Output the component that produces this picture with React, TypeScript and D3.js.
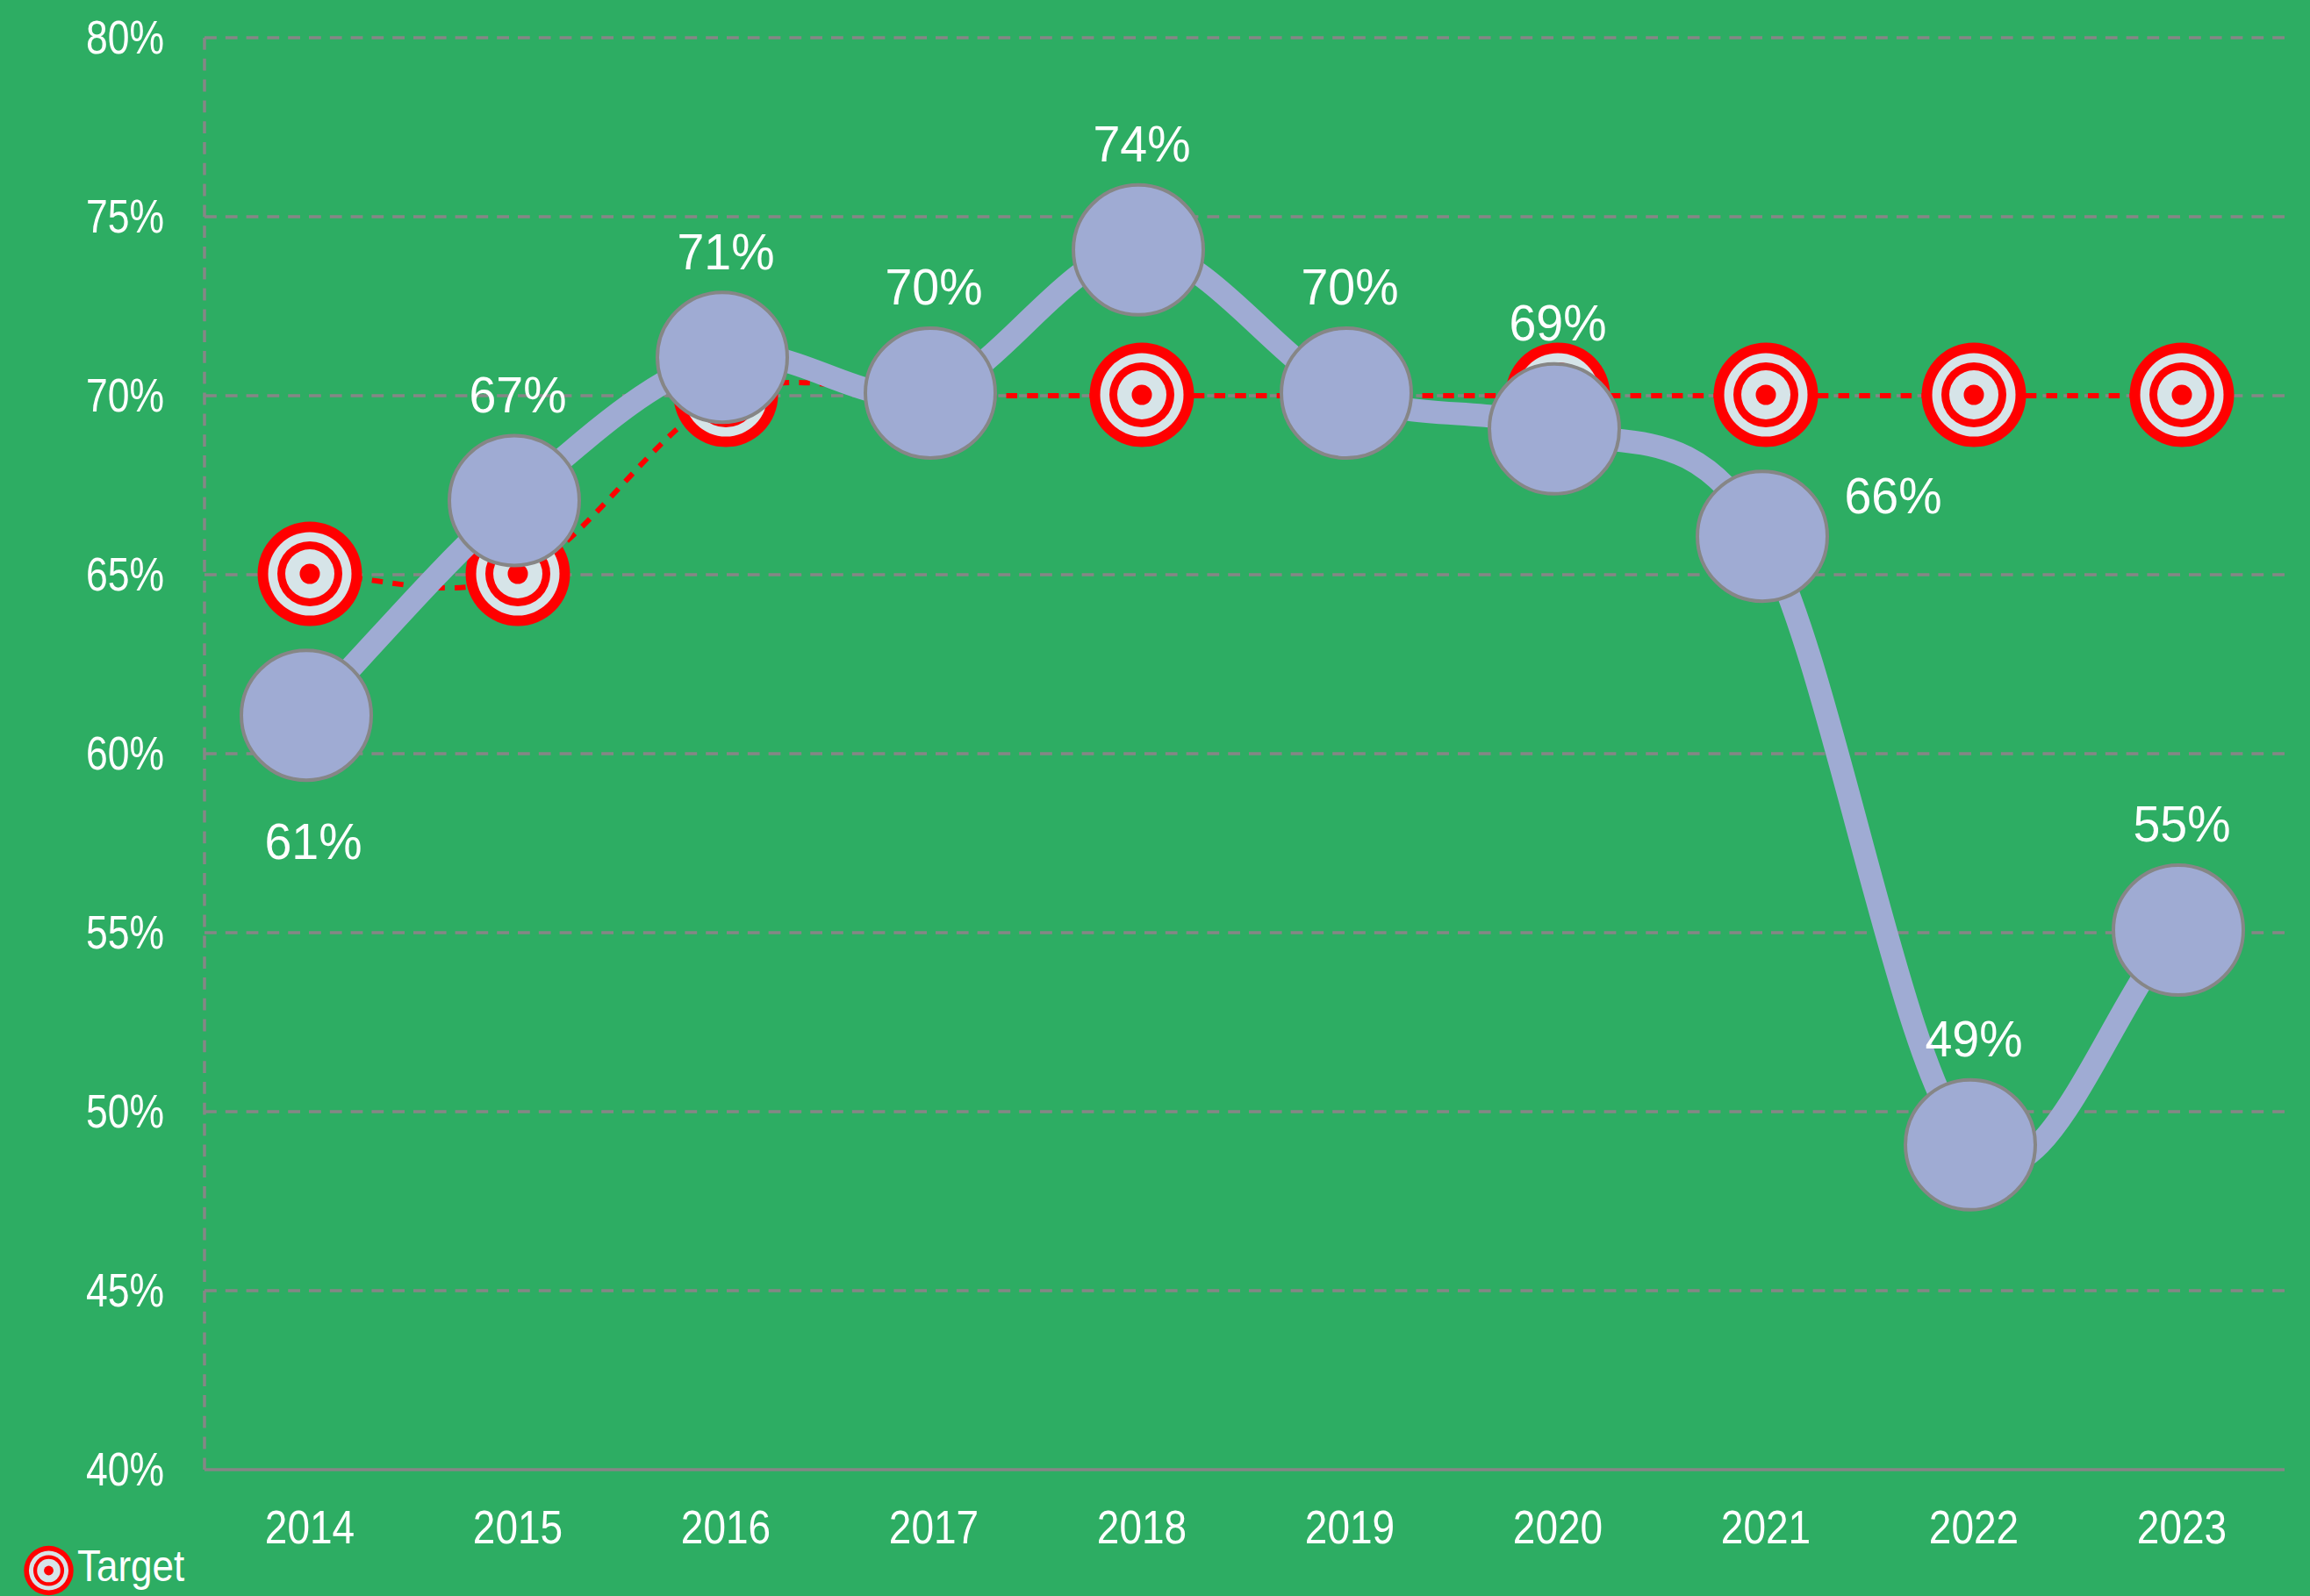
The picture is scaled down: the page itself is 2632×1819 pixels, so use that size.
import React from 'react';
import * as d3 from 'd3';

const years = ['2014','2015','2016','2017','2018','2019','2020','2021','2022','2023'];
const actual = [61,67,71,70,74,70,69,66,49,55];
const target = [65,65,70,70,70,70,70,70,70,70];
const yTicks = [40,45,50,55,60,65,70,75,80];
const labelPlacement = ['below','above','above','above','above','above','above','right','above','above'];
const targetRings = [59.5,47.5,37,28,11.5];

const W = 2632, H = 1819;
const L = 233, R = 2603, T = 43, B = 1675;
const BG = '#2DAD63', GRID = '#868686', PURPLE = '#9FABD3', RED = '#FF0000', PALE = '#D6E4E8';
const FONT = '"Liberation Sans", Arial, sans-serif';

const x = d3.scaleBand<string>().domain(years).range([L + 1.5, R + 1.5]);
const cx = (y: string) => x(y)! + x.bandwidth() / 2;
const y = d3.scaleLinear().domain([40, 80]).range([B, T]);
const OFF_X = -4, OFF_Y = -3;

// Office-style smoothing: interior handles are a sixth of the neighbour chord,
// end handles a third of the end chord; the final segment keeps some of the
// incoming slope on leaving its first point, as the original renderer does.
function smooth(pts: [number, number][]) {
  const p = d3.path();
  const n = pts.length;
  p.moveTo(pts[0][0], pts[0][1]);
  for (let i = 0; i < n - 1; i++) {
    const p1 = pts[i], p2 = pts[i + 1];
    const p0 = pts[i - 1], p3 = pts[i + 2];
    let c1x: number, c1y: number, c2x: number, c2y: number;
    if (!p0) { c1x = p1[0] + (p2[0] - p1[0]) / 3; c1y = p1[1] + (p2[1] - p1[1]) / 3; }
    else if (!p3) { c1x = p1[0] + (p2[0] - p1[0]) / 3; c1y = p1[1] + (p1[1] - p0[1]) / 7; }
    else { c1x = p1[0] + (p2[0] - p0[0]) / 6; c1y = p1[1] + (p2[1] - p0[1]) / 6; }
    if (!p3) { c2x = p2[0] + (p1[0] - p2[0]) / 3; c2y = p2[1] + (p1[1] - p2[1]) / 3; }
    else { c2x = p2[0] + (p1[0] - p3[0]) / 6; c2y = p2[1] + (p1[1] - p3[1]) / 6; }
    p.bezierCurveTo(c1x, c1y, c2x, c2y, p2[0], p2[1]);
  }
  return p.toString();
}

function Txt({ px, py, size, sy = 1, anchor = 'middle', children }: any) {
  return (
    <text transform={`translate(${px},${py + 0.358 * size * sy}) scale(1,${sy})`} fontSize={size}
      fontFamily={FONT} fill="#fff" textAnchor={anchor}>{children}</text>
  );
}

function Target({ px, py, k = 1 }: any) {
  return <g>{targetRings.map((r, i) => (
    <circle key={i} cx={px} cy={py} r={r * k} fill={i % 2 === 0 ? RED : PALE} />
  ))}</g>;
}

export default function App() {
  const targetPts = years.map((yr, i) => [cx(yr), y(target[i])] as [number, number]);
  const actualPts = years.map((yr, i) => [cx(yr) + OFF_X, y(actual[i]) + OFF_Y] as [number, number]);
  return (
    <svg width={W} height={H} viewBox={`0 0 ${W} ${H}`} style={{ position: 'absolute', left: 0, top: 0, display: 'block' }}>
      <rect width={W} height={H} fill={BG} />
      {yTicks.filter(t => t > 40).map(t => (
        <line key={t} x1={L} x2={R} y1={y(t)} y2={y(t)} stroke={GRID} strokeWidth={3.5} strokeDasharray="13.8 10" />
      ))}
      <line x1={L} x2={L} y1={T} y2={B} stroke={GRID} strokeWidth={3.5} strokeDasharray="13.8 10" />
      <line x1={L} x2={R} y1={B} y2={B} stroke={GRID} strokeWidth={3.5} />
      {yTicks.map(t => (
        <Txt key={t} px={187} py={y(t) - 1.5} size={44.5} sy={1.22} anchor="end">{t}%</Txt>
      ))}
      {years.map(yr => (
        <Txt key={yr} px={cx(yr)} py={1740} size={46} sy={1.18}>{yr}</Txt>
      ))}
      <path d={smooth(targetPts)} fill="none" stroke={RED} strokeWidth={6} strokeDasharray="12.5 11.2" />
      {targetPts.map((p, i) => <Target key={i} px={p[0]} py={p[1] - 1} />)}
      <path d={smooth(actualPts)} fill="none" stroke={PURPLE} strokeWidth={26} strokeLinecap="round" />
      {actualPts.map((p, i) => (
        <circle key={i} cx={p[0]} cy={p[1]} r={74} fill={PURPLE} stroke={GRID} strokeWidth={4} />
      ))}
      {years.map((yr, i) => {
        const place = labelPlacement[i];
        const ax = cx(yr), ay = actualPts[i][1];
        const px = place === 'right' ? ax + 145 : place === 'below' ? ax + 4 : ax;
        const py = place === 'below' ? ay + 143 : place === 'right' ? ay - 47 : ay - 121;
        return <Txt key={yr} px={px} py={py} size={55.5} sy={1.03}>{actual[i]}%</Txt>;
      })}
      <Target px={55.5} py={1790} k={28 / 59} />
      <text transform="translate(88,1802) scale(1,1.15)" fontSize={44} fontFamily={FONT} fill="#fff">Target</text>
    </svg>
  );
}
